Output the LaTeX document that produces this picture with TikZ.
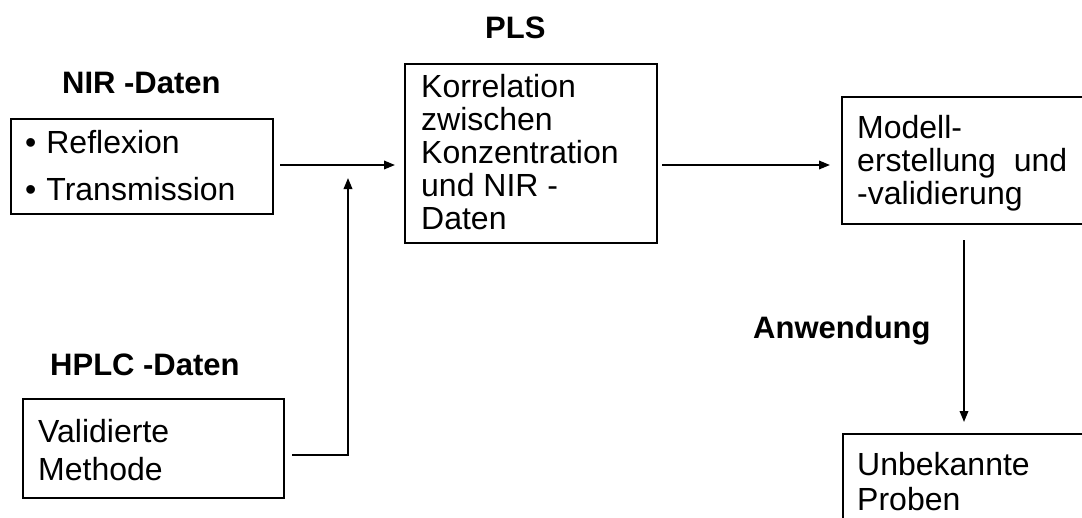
\documentclass[tikz,border=0pt]{standalone}
\usepackage{fontspec}
\setmainfont{Liberation Sans}
\usetikzlibrary{arrows.meta}
\begin{document}
\begin{tikzpicture}[x=1pt,y=-1pt,
  box/.style={draw, line width=1.9pt, inner sep=0pt, anchor=north west},
  txt/.style={inner sep=0pt, anchor=north west, align=left, font=\fontsize{32}{33}\selectfont},
  ttl/.style={inner sep=0pt, anchor=base west, font=\fontsize{31}{33}\selectfont\bfseries},
  arr/.style={line width=1.9pt, -{Triangle[length=11pt,width=8.5pt]}},
  ln/.style={line width=1.9pt}]
\clip (0,0) rectangle (1082,517);
% boxes
\node[box, minimum width=262pt, minimum height=95pt] (nir) at (10,118) {};
\node[box, minimum width=261pt, minimum height=99pt] (hplc) at (22,398) {};
\node[box, minimum width=252pt, minimum height=179pt] (pls) at (404,63) {};
\node[box, minimum width=260pt, minimum height=127pt] (mod) at (841,96) {};
\node[box, minimum width=260pt, minimum height=120pt] (unb) at (842,433) {};
% titles
\node[ttl] (tnir) at (62,93) {NIR -Daten};
\node[ttl] (thplc) at (50,375) {HPLC -Daten};
\node[ttl] (tpls) at (485,38) {PLS};
\node[ttl] (tanw) at (753,338) {Anwendung};
% texts
\node[txt] (xnir) at (25,130) {•\hspace{10pt}Reflexion\\[14pt]•\hspace{10pt}Transmission};
\node[txt] (xhplc) at (38,419) {Validierte\\[5pt]Methode};
\node[txt] (xpls) at (421,74) {Korrelation\\zwischen\\Konzentration\\und NIR -\\Daten};
\node[txt] (xmod) at (857,115) {Modell-\\erstellung\hspace{18pt}und\\-validierung};
\node[txt, font=\fontsize{32}{35}\selectfont] (xunb) at (857,452) {Unbekannte\\Proben};
% connectors
\coordinate (a1) at (280,165);
\coordinate (a2) at (395,165);
\coordinate (j) at (348,178);
\coordinate (h) at (292,455);
\coordinate (b1) at (662,165);
\coordinate (b2) at (830,165);
\coordinate (d1) at (964,240);
\coordinate (d2) at (964,422);
\draw[arr] (a1) -- (a2);
\draw[arr] (h) -- (j |- h) -- (j);
\draw[arr] (b1) -- (b2);
\draw[arr] (d1) -- (d2);
\end{tikzpicture}
\end{document}
